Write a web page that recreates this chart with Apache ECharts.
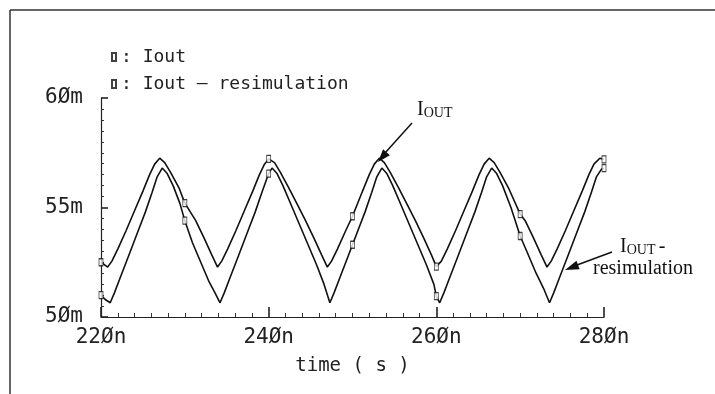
<!DOCTYPE html>
<html lang="en">
<head>
    <meta charset="UTF-8">
    <title>Iout vs Iout - resimulation</title>
    <script src="https://cdn.jsdelivr.net/npm/echarts@6/dist/echarts.min.js"></script>
    <style>
        html, body { margin: 0; padding: 0; background: #fff; }
        #chart { width: 715px; height: 394px; }
    </style>
</head>
<body>
    <div id="chart"></div>
    <script>
        // time in ns, current in mA
        let ioutData = [
            [220, 52.5], [220.8, 52.28], [221.3, 52.55], [222, 53.1], [223, 53.95], [224, 54.85],
            [225, 55.75], [225.8, 56.5], [226.4, 56.98], [227, 57.25], [227.6, 57.05], [228.3, 56.6],
            [229.3, 55.9], [230, 55.2], [231.3, 54.4], [232.3, 53.6], [233.2, 52.85], [233.9, 52.28],
            [234.4, 52.55], [235.1, 53.1], [236.1, 53.95], [237.1, 54.85], [238.1, 55.75], [238.9, 56.5],
            [239.5, 56.98], [240, 57.22], [240.7, 57.05], [241.4, 56.6], [242.4, 55.9], [243.4, 55.15],
            [244.4, 54.4], [245.4, 53.6], [246.3, 52.85], [247, 52.28],
            [247.5, 52.55], [248.2, 53.1], [249.2, 53.95], [250, 54.6], [251.2, 55.75], [252, 56.5],
            [252.6, 56.98], [253.2, 57.25], [253.8, 57.05], [254.5, 56.6], [255.5, 55.9], [256.5, 55.15],
            [257.5, 54.4], [258.5, 53.6], [259.4, 52.85], [260, 52.3],
            [260.6, 52.55], [261.3, 53.1], [262.3, 53.95], [263.3, 54.85], [264.3, 55.75], [265.1, 56.5],
            [265.7, 56.98], [266.3, 57.25], [266.9, 57.05], [267.6, 56.6], [268.6, 55.9], [270, 54.7],
            [270.6, 54.4], [271.6, 53.6], [272.5, 52.85], [273.2, 52.28],
            [273.7, 52.55], [274.4, 53.1], [275.4, 53.95], [276.4, 54.85], [277.4, 55.75], [278.2, 56.5],
            [278.8, 56.98], [279.5, 57.25], [280, 57.2]
        ];
        let resimData = [
            [220, 51.0], [220.5, 50.8], [221.1, 50.65], [221.6, 51.1], [222.3, 51.8], [223.3, 52.8],
            [224.3, 53.8], [225.3, 54.8], [226.1, 55.7], [226.7, 56.4], [227.3, 56.8], [227.9, 56.55],
            [228.6, 56.0], [229.4, 55.2], [230, 54.4], [230.9, 53.4], [231.9, 52.5], [232.9, 51.6],
            [233.6, 51.1], [234.2, 50.65],
            [234.7, 51.1], [235.4, 51.8], [236.4, 52.8], [237.4, 53.8], [238.4, 54.8], [239.2, 55.7],
            [240, 56.55], [240.4, 56.8], [241, 56.55], [241.7, 56.0], [242.7, 55.1], [243.7, 54.2],
            [244.7, 53.3], [245.7, 52.4], [246.6, 51.5], [247.3, 50.65],
            [247.8, 51.1], [248.5, 51.8], [249.5, 52.8], [250, 53.3], [250.5, 53.8], [251.5, 54.8],
            [252.3, 55.7], [252.9, 56.4], [253.5, 56.8], [254.1, 56.55], [254.8, 56.0], [255.8, 55.1],
            [256.8, 54.2], [257.8, 53.3], [258.8, 52.4], [259.7, 51.5], [260, 50.95], [260.4, 50.65],
            [260.9, 51.1], [261.6, 51.8], [262.6, 52.8], [263.6, 53.8], [264.6, 54.8], [265.4, 55.7],
            [266, 56.4], [266.6, 56.8], [267.2, 56.55], [267.9, 56.0], [268.9, 55.0], [270, 53.7],
            [270.9, 52.9], [271.9, 52.0], [272.8, 51.3], [273.5, 50.65],
            [274, 51.1], [274.7, 51.8], [275.7, 52.8], [276.7, 53.8], [277.7, 54.8], [278.5, 55.7],
            [279.1, 56.4], [279.7, 56.75], [280, 56.8]
        ];
        // sample markers every 10 ns
        let markerTimes = [220, 230, 240, 250, 260, 270, 280];
        let legendNames = ['Iout', 'Iout \u2013 resimulation'];
        let xTicks = [220, 240, 260, 280];
        let xTickLabels = ['22\u00d8n', '24\u00d8n', '26\u00d8n', '28\u00d8n'];
        let yTicks = [50, 55, 60];
        let yTickLabels = ['5\u00d8m', '55m', '6\u00d8m'];

        let plotFont = 'DejaVu Sans Mono';
        let noteFont = 'Liberation Serif';

        function pickMarkers(data) {
            return data.filter(p => markerTimes.indexOf(p[0]) !== -1);
        }

        let lineStyle = { color: '#111', width: 1.6 };
        let markerStyle = { color: '#fff', borderColor: '#111', borderWidth: 1 };

        let chart = echarts.init(document.getElementById('chart'));
        chart.setOption({
            animation: false,
            backgroundColor: '#fff',
            grid: { left: 101, right: 111, top: 98, bottom: 77 },
            legend: {
                data: legendNames,
                orient: 'vertical',
                left: 106,
                top: 43,
                icon: 'rect',
                itemWidth: 4,
                itemHeight: 8,
                itemGap: 9,
                formatter: ': {name}',
                textStyle: { fontFamily: plotFont, fontSize: 18, color: '#222' },
                selectedMode: false
            },
            xAxis: {
                type: 'value',
                min: 220,
                max: 280,
                interval: 20,
                name: 'time ( s )',
                nameLocation: 'middle',
                nameGap: 40,
                nameTextStyle: { fontFamily: plotFont, fontSize: 19, color: '#222' },
                axisLine: { lineStyle: { color: '#222', width: 1.2 } },
                axisTick: { inside: true, length: 10, lineStyle: { color: '#222', width: 1.6 } },
                minorTick: { show: true, splitNumber: 10, length: 4, lineStyle: { color: '#333' } },
                splitLine: { show: false },
                axisLabel: {
                    margin: 10,
                    fontFamily: plotFont,
                    fontSize: 21,
                    color: '#222',
                    formatter: v => xTickLabels[xTicks.indexOf(v)]
                }
            },
            yAxis: {
                type: 'value',
                min: 50,
                max: 60,
                interval: 5,
                axisLine: { show: true, lineStyle: { color: '#222', width: 1.2 } },
                axisTick: { show: true, inside: true, length: 7, lineStyle: { color: '#222', width: 1.6 } },
                minorTick: { show: true, splitNumber: 10, length: 3, lineStyle: { color: '#333' } },
                splitLine: { show: false },
                axisLabel: {
                    margin: 18,
                    fontFamily: plotFont,
                    fontSize: 21,
                    color: '#222',
                    padding: [0, 0, 10, 0],
                    formatter: v => yTickLabels[yTicks.indexOf(v)]
                }
            },
            series: [
                {
                    name: 'Iout curve',
                    type: 'line',
                    data: ioutData,
                    symbol: 'none',
                    lineStyle: lineStyle
                },
                {
                    name: 'resim curve',
                    type: 'line',
                    data: resimData,
                    symbol: 'none',
                    lineStyle: lineStyle
                },
                {
                    name: legendNames[0],
                    type: 'scatter',
                    data: pickMarkers(ioutData),
                    symbol: 'rect',
                    symbolSize: [4, 7],
                    itemStyle: markerStyle,
                    z: 5
                },
                {
                    name: legendNames[1],
                    type: 'scatter',
                    data: pickMarkers(resimData),
                    symbol: 'rect',
                    symbolSize: [4, 7],
                    itemStyle: markerStyle,
                    z: 5
                }
            ],
            graphic: [
                // page frame
                { type: 'line', shape: { x1: 10, y1: 10, x2: 715, y2: 10 }, style: { stroke: '#333', lineWidth: 1.5 } },
                { type: 'line', shape: { x1: 10, y1: 10, x2: 10, y2: 394 }, style: { stroke: '#333', lineWidth: 1.5 } },
                // I_OUT note
                {
                    type: 'text', left: 417, top: 100,
                    style: {
                        text: '{a|I}{b|OUT}',
                        rich: {
                            a: { fontFamily: noteFont, fontSize: 20, verticalAlign: 'bottom', fill: '#111' },
                            b: { fontFamily: noteFont, fontSize: 14, verticalAlign: 'bottom', fill: '#111' }
                        }
                    }
                },
                { type: 'line', shape: { x1: 412, y1: 123, x2: 385, y2: 153 }, style: { stroke: '#111', lineWidth: 1.5 } },
                { type: 'polygon', shape: { points: [[378, 162], [389.9, 155.2], [383.1, 149.2]] }, style: { fill: '#111' } },
                // I_OUT - resimulation note
                {
                    type: 'text', left: 620, top: 237,
                    style: {
                        text: '{a|I}{b|OUT} {a|-}',
                        rich: {
                            a: { fontFamily: noteFont, fontSize: 20, verticalAlign: 'bottom', fill: '#111' },
                            b: { fontFamily: noteFont, fontSize: 14, verticalAlign: 'bottom', fill: '#111' }
                        }
                    }
                },
                {
                    type: 'text', left: 593, top: 259,
                    style: { text: 'resimulation', fontFamily: noteFont, fontSize: 20, fill: '#111' }
                },
                { type: 'line', shape: { x1: 612, y1: 252, x2: 577, y2: 265 }, style: { stroke: '#111', lineWidth: 1.5 } },
                { type: 'polygon', shape: { points: [[565, 270], [579.7, 269.2], [576.5, 260.8]] }, style: { fill: '#111' } }
            ]
        });
    </script>
</body>
</html>
